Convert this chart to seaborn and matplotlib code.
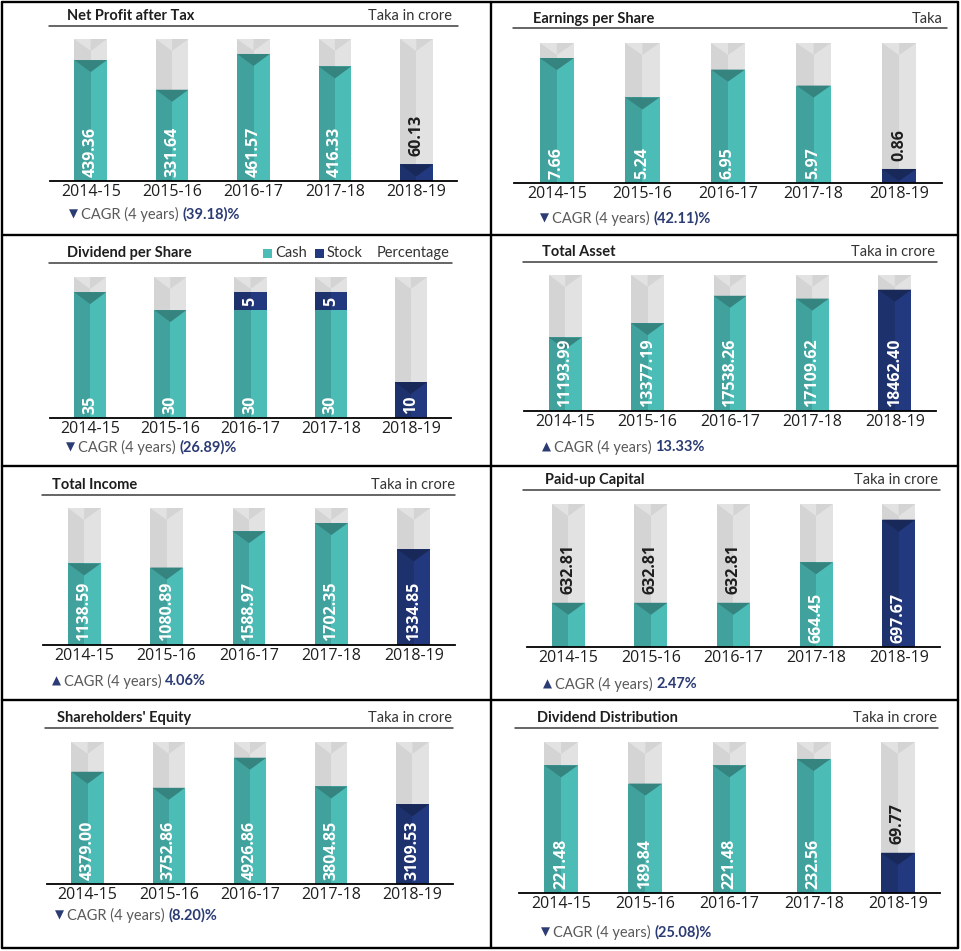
import numpy as np
import matplotlib
matplotlib.use("Agg")
import matplotlib.pyplot as plt
from matplotlib import font_manager
from matplotlib.lines import Line2D
from matplotlib.patches import Rectangle, Polygon
import seaborn as sns

# %% data
years = ["2014-15", "2015-16", "2016-17", "2017-18", "2018-19"]

net_profit = [439.36, 331.64, 461.57, 416.33, 60.13]
eps = [7.66, 5.24, 6.95, 5.97, 0.86]
div_cash = [35, 30, 30, 30, 0]
div_stock = [0, 0, 5, 5, 10]
total_asset = [11193.99, 13377.19, 17538.26, 17109.62, 18462.40]
total_income = [1138.59, 1080.89, 1588.97, 1702.35, 1334.85]
paid_up_capital = [632.81, 632.81, 632.81, 664.45, 697.67]
shareholders_equity = [4379.00, 3752.86, 4926.86, 3804.85, 3109.53]
dividend_distribution = [221.48, 189.84, 221.48, 232.56, 69.77]

titles = ["Net Profit after Tax", "Earnings per Share", "Dividend per Share", "Total Asset",
          "Total Income", "Paid-up Capital", "Shareholders' Equity", "Dividend Distribution"]
units = ["Taka in crore", "Taka", "Percentage", "Taka in crore",
         "Taka in crore", "Taka in crore", "Taka in crore", "Taka in crore"]
cagr_values = ["(39.18)%", "(42.11)%", "(26.89)%", "13.33%", "4.06%", "2.47%", "(8.20)%", "(25.08)%"]
cagr_up = [False, False, False, True, True, True, False, False]

# %% layout (pixels) and styles
W, H = 961, 951
BAR_W = 0.4
TEAL = "#4cbcb7"
NAVY = "#22397f"
TRACK = "#e2e2e2"
INK = "#1e1e1e"
CAGR_BLUE = "#2b3b73"

layout = [
    dict(box=(50, 39, 457, 181), head=(49, 458, 26), title=(67, 16), unit_x=452, cagr=(69, 214), ylim=(0, 516)),
    dict(box=(514, 43, 942, 183), head=(513, 947, 28), title=(533, 19), unit_x=943, cagr=(540, 218), ylim=(0, 8.58)),
    dict(box=(50, 277, 451, 418), head=(49, 452, 263), title=(67, 253), unit_x=450, cagr=(66, 447), ylim=(0, 39.2)),
    dict(box=(524, 275, 936, 411), head=(523, 937, 262), title=(542, 252), unit_x=935, cagr=(542, 447), ylim=(0, 20700)),
    dict(box=(43, 508, 455, 645), head=(42, 455, 495), title=(52, 485), unit_x=455, cagr=(52, 681), ylim=(0, 1912)),
    dict(box=(527, 504, 940, 647), head=(523, 940, 490), title=(545, 480), unit_x=938, cagr=(543, 684), ylim=(598.3, 709.9)),
    dict(box=(47, 742, 453, 884), head=(45, 453, 728), title=(57, 718), unit_x=452, cagr=(55, 915), ylim=(0, 5540)),
    dict(box=(519, 742, 940, 893), head=(515, 938, 728), title=(537, 718), unit_x=937, cagr=(541, 932), ylim=(0, 262)),
]

sns.set_style("white")
names = {f.name for f in font_manager.fontManager.ttflist}
NARROW = next(f for f in ["Liberation Sans Narrow", "Lato", "Open Sans"] if f in names)
plt.rcParams["font.family"] = ["Open Sans", "DejaVu Sans"]

fig = plt.figure(figsize=(W / 100, H / 100), dpi=100)
fig.patch.set_facecolor("white")


def fx(x):
    return x / W


def fy(y):
    return 1 - y / H


def shade(ax, bars, tri_mask, depth, z, dark=0.86, tri=0.70, fold=False):
    # darker left half + a V notch at the top of each bar
    for p, has_tri in zip(bars, tri_mask):
        h = p.get_height()
        if h <= 0:
            continue
        x0, w, y0 = p.get_x(), p.get_width(), p.get_y()
        c = np.array(p.get_facecolor()[:3])
        top = y0 + h
        xc = x0 + w / 2
        ax.add_patch(Rectangle((x0, y0), w / 2, h, color=c * dark, lw=0, zorder=z + 0.1))
        if not has_tri:
            continue
        if fold:
            # grey track: the halves swap shade inside the top notch
            ax.add_patch(Polygon([(x0, top), (xc, top), (xc, top - depth)], closed=True,
                                 color=c * tri, lw=0, zorder=z + 0.2))
            ax.add_patch(Polygon([(xc, top), (x0 + w, top), (xc, top - depth)], closed=True,
                                 color=c * dark, lw=0, zorder=z + 0.2))
        else:
            ax.add_patch(Polygon([(x0, top), (x0 + w, top), (xc, top - depth)],
                                 closed=True, color=c * tri, lw=0, zorder=z + 0.2))


def label_bottom(ax, i, s):
    ax.annotate(s, xy=(i, 0), xycoords=ax.get_xaxis_transform(), xytext=(0, 3),
                textcoords="offset points", rotation=90, ha="center", va="bottom",
                color="white", fontweight="bold", fontsize=11.5, zorder=5)


def setup_panel(k):
    lay = layout[k]
    l, t, r, b = lay["box"]
    ax = fig.add_axes([fx(l), fy(b), (r - l) / W, (b - t) / H])
    ymin, ymax = lay["ylim"]
    depth = 12 / (b - t) * (ymax - ymin)
    xs = np.arange(len(years))
    track = ax.bar(xs, ymax - ymin, bottom=ymin, width=BAR_W, color=TRACK, lw=0, zorder=1)
    shade(ax, track, [True] * len(years), depth, 1, dark=0.94, tri=1.0, fold=True)

    # header: title, unit, rule
    x0, x1, yh = lay["head"]
    fig.add_artist(Line2D([fx(x0), fx(x1)], [fy(yh), fy(yh)], transform=fig.transFigure,
                          color="#3c3c3c", lw=1.1))
    fig.text(fx(lay["title"][0]), fy(lay["title"][1]), titles[k], family=NARROW,
             fontweight="bold", fontsize=10.5, color=INK, ha="left", va="center")
    fig.text(fx(lay["unit_x"]), fy(lay["title"][1]), units[k], family=NARROW,
             fontsize=10.5, color="#333333", ha="right", va="center")

    # CAGR line
    cx, cy = lay["cagr"]
    fig.text(fx(cx), fy(cy), "▲" if cagr_up[k] else "▼", family="DejaVu Sans",
             fontsize=8.5, color=CAGR_BLUE, ha="left", va="center")
    t1 = fig.text(fx(cx + 12), fy(cy), "CAGR (4 years)", family=NARROW, fontsize=10.5,
                  color="#5a5a5a", ha="left", va="center")
    ax.annotate(cagr_values[k], xy=(1, 0.5), xycoords=t1, xytext=(2.5, 0),
                textcoords="offset points", family=NARROW, fontweight="bold",
                fontsize=10.5, color=CAGR_BLUE, ha="left", va="center")
    return ax, depth


def finish_axes(ax, k):
    ymin, ymax = layout[k]["ylim"]
    ax.set_xlim(-0.5, len(years) - 0.5)
    ax.set_ylim(ymin, ymax)
    ax.set_xticks(np.arange(len(years)), years)
    ax.tick_params(axis="x", length=0, pad=2.5, labelsize=11.5, labelcolor=INK)
    ax.set_yticks([])
    ax.set_xlabel("")
    ax.set_ylabel("")
    for side in ["top", "left", "right"]:
        ax.spines[side].set_visible(False)
    ax.spines["bottom"].set_color("black")
    ax.spines["bottom"].set_linewidth(1.3)
    ax.spines["bottom"].set_zorder(6)
    ax.set_facecolor("white")


def simple_panel(k, values, fmt):
    ax, depth = setup_panel(k)
    colors = [TEAL] * (len(years) - 1) + [NAVY]
    n0 = len(ax.patches)
    sns.barplot(x=years, y=values, hue=years, palette=colors, width=BAR_W, saturation=1,
                errorbar=None, legend=False, ax=ax, zorder=2, linewidth=0)
    bars = ax.patches[n0:n0 + len(years)]
    shade(ax, bars, [True] * len(years), depth, 2)

    l, t, r, b = layout[k]["box"]
    ymin, ymax = layout[k]["ylim"]
    for i, v in enumerate(values):
        s = fmt.format(v)
        bar_px = (v - ymin) / (ymax - ymin) * (b - t)
        if bar_px > 7.5 * len(s) + 8:
            label_bottom(ax, i, s)
        else:
            ax.annotate(s, xy=(i, v), xytext=(0, 6), textcoords="offset points", rotation=90,
                        ha="center", va="bottom", color=INK, fontweight="bold",
                        fontsize=11.5, zorder=5)
    finish_axes(ax, k)


def dividend_panel(k):
    ax, depth = setup_panel(k)
    totals = [c + s for c, s in zip(div_cash, div_stock)]
    n0 = len(ax.patches)
    sns.barplot(x=years, y=totals, color=NAVY, width=BAR_W, saturation=1, errorbar=None,
                ax=ax, zorder=2, linewidth=0)
    shade(ax, ax.patches[n0:n0 + len(years)], [c == 0 for c in div_cash], depth, 2)
    n1 = len(ax.patches)
    sns.barplot(x=years, y=div_cash, color=TEAL, width=BAR_W, saturation=1, errorbar=None,
                ax=ax, zorder=3, linewidth=0)
    shade(ax, ax.patches[n1:n1 + len(years)], [s == 0 for s in div_stock], depth, 3)

    for i, (c, s) in enumerate(zip(div_cash, div_stock)):
        if c > 0:
            label_bottom(ax, i, f"{c:d}")
        if s > 0:
            if c == 0:
                label_bottom(ax, i, f"{s:d}")
            else:
                ax.text(i, c + s / 2, f"{s:d}", rotation=90, ha="center", va="center",
                        color="white", fontweight="bold", fontsize=11.5, zorder=5)
    finish_axes(ax, k)

    # legend squares in the header
    for sx, col, name in [(263, TEAL, "Cash"), (315, NAVY, "Stock")]:
        fig.add_artist(Rectangle((fx(sx), fy(258)), 9 / W, 9 / H, transform=fig.transFigure,
                                 color=col, lw=0))
        fig.text(fx(sx + 12), fy(253), name, family=NARROW, fontsize=10.5, color="#333333",
                 ha="left", va="center")


simple_panel(0, net_profit, "{:.2f}")
simple_panel(1, eps, "{:.2f}")
dividend_panel(2)
simple_panel(3, total_asset, "{:.2f}")
simple_panel(4, total_income, "{:.2f}")
simple_panel(5, paid_up_capital, "{:.2f}")
simple_panel(6, shareholders_equity, "{:.2f}")
simple_panel(7, dividend_distribution, "{:.2f}")

# panel frame
for x in [2, 491, 958]:
    fig.add_artist(Line2D([fx(x), fx(x)], [fy(2), fy(948)], transform=fig.transFigure,
                          color="black", lw=1.7))
for y in [2, 235, 466, 700, 948]:
    fig.add_artist(Line2D([fx(2), fx(958)], [fy(y), fy(y)], transform=fig.transFigure,
                          color="black", lw=1.7))

fig.savefig("out.png", dpi=100)
